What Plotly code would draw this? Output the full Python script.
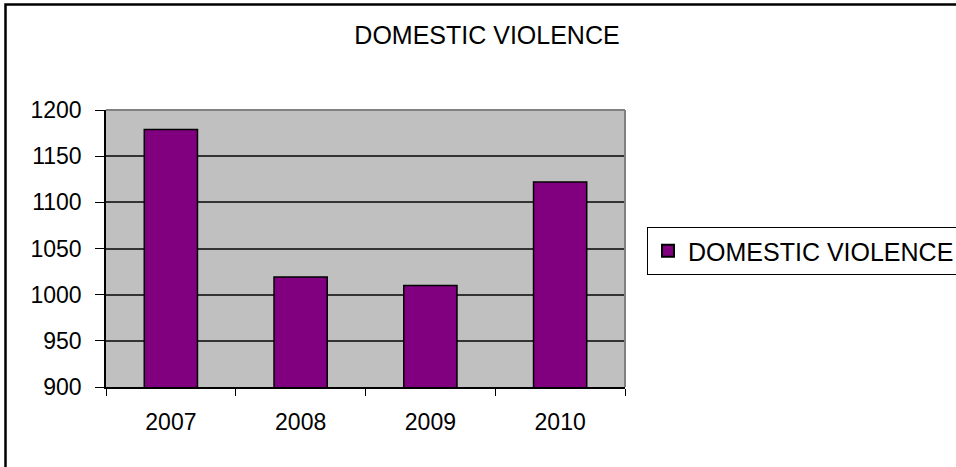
import plotly.graph_objects as go

years = ["2007", "2008", "2009", "2010"]
values = [1179, 1019, 1010, 1122]
series_name = "DOMESTIC VIOLENCE"
y_ticks = [900, 950, 1000, 1050, 1100, 1150, 1200]

W, H = 956, 467
L, R, T, B = 106, 625, 110, 387

fig = go.Figure()
fig.add_trace(go.Bar(
    x=years, y=values, name=series_name, width=0.41,
    marker=dict(color="#800080", line=dict(color="#000000", width=1.5)),
    showlegend=True,
))

pw, ph = R - L, B - T
def px_x(v):
    return (v - L) / pw
def px_y(v):
    return (B - v) / ph

fig.update_layout(
    width=W, height=H,
    margin=dict(l=L, r=W - R, t=T, b=H - B, pad=0, autoexpand=False),
    paper_bgcolor="white",
    plot_bgcolor="#C0C0C0",
    font=dict(family="Liberation Sans, Arial, sans-serif", color="black", size=23),
    title=dict(text="DOMESTIC VIOLENCE", x=487 / W, xref="container", xanchor="center",
               y=1 - 35 / H, yref="container", yanchor="middle",
               font=dict(size=25)),
    showlegend=True,
    legend=dict(x=647 / W, y=1 - 227 / H, xref="container", yref="container",
                xanchor="left", yanchor="top",
                bordercolor="black", borderwidth=1, bgcolor="white",
                font=dict(size=25), itemsizing="constant", itemwidth=30,
                tracegroupgap=0),
    xaxis=dict(type="category", tickson="boundaries", ticks="outside", ticklen=7,
               tickcolor="black", tickwidth=1, showline=True, linecolor="black",
               linewidth=1.5, showgrid=False, tickfont=dict(size=23),
               ticklabelstandoff=14),
    yaxis=dict(range=[900, 1200], tickvals=y_ticks, ticks="outside", ticklen=9,
               tickcolor="black", tickwidth=1, showline=True, linecolor="black",
               linewidth=1.5, showgrid=True, gridcolor="#333333", gridwidth=1.5,
               zeroline=False, tickfont=dict(size=23), ticklabelstandoff=9),
    shapes=[
        dict(type="line", xref="paper", yref="paper", x0=0, x1=1, y0=1, y1=1,
             line=dict(color="#808080", width=2), layer="above"),
        dict(type="line", xref="paper", yref="paper", x0=1, x1=1, y0=0, y1=1,
             line=dict(color="#808080", width=2), layer="above"),
        dict(type="rect", xref="paper", yref="paper",
             x0=px_x(5.5), x1=px_x(970), y0=px_y(4.5), y1=px_y(480),
             line=dict(color="black", width=2.5), fillcolor="rgba(0,0,0,0)",
             layer="above"),
    ],
)

fig.write_html("out.html")
